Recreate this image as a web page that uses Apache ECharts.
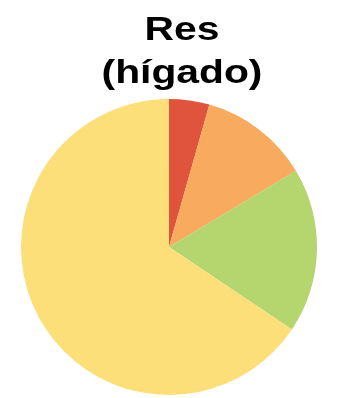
<!DOCTYPE html>
<html>
<head>
<meta charset="utf-8">
<script src="https://cdn.jsdelivr.net/npm/echarts@6/dist/echarts.min.js"></script>
<style>html,body{margin:0;padding:0;background:#fff}#c{width:337px;height:398px}</style>
</head>
<body>
<div id="c"></div>
<script>
const titleLines = ['Res', '(hígado)'];
const categories = ['Rojo', 'Naranja', 'Verde', 'Amarillo'];
const values = [4.4, 12.0, 18.0, 65.6];
const colors = ['#e0533d', '#f8ab5e', '#b5d56f', '#fddf7a'];

const chart = echarts.init(document.getElementById('c'), null, {renderer: 'canvas'});
chart.setOption({
  animation: false,
  graphic: titleLines.map((t, i) => ({
    type: 'text',
    x: 182,
    y: 31 + i * 43,
    scaleX: 1.2,
    style: {
      text: t,
      fontFamily: 'Liberation Sans, Arial, sans-serif',
      fontWeight: 'bold',
      fontSize: 34,
      fill: '#000',
      align: 'center',
      verticalAlign: 'middle'
    }
  })),
  series: [{
    type: 'pie',
    center: [169, 247],
    radius: 148,
    startAngle: 90,
    clockwise: true,
    label: {show: false},
    labelLine: {show: false},
    emphasis: {disabled: true},
    itemStyle: {borderWidth: 0},
    data: categories.map((n, i) => ({name: n, value: values[i], itemStyle: {color: colors[i]}}))
  }]
});
</script>
</body>
</html>
